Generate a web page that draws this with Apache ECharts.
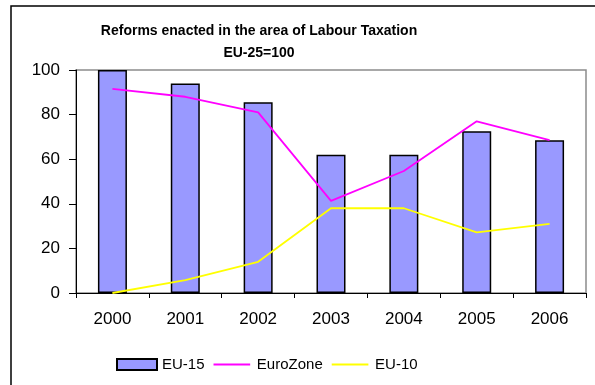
<!DOCTYPE html>
<html>
<head>
<meta charset="utf-8">
<script src="https://cdn.jsdelivr.net/npm/echarts@6/dist/echarts.min.js"></script>
<style>
  html, body { margin: 0; padding: 0; background: #fff; }
  #chart { width: 595px; height: 385px; }
</style>
</head>
<body>
<div id="chart"></div>
<script>
// Years on the category axis
const years = ['2000', '2001', '2002', '2003', '2004', '2005', '2006'];
// Index values, EU-25 = 100
const eu15 = [100, 94, 85.5, 62, 62, 72.5, 68.5];
const euroZone = [91.5, 88, 81, 41.3, 54.7, 77, 68.6];
const eu10 = [0, 5.8, 14, 38, 38, 27.2, 31];
const yTicks = [0, 20, 40, 60, 80, 100];

const font = 'Liberation Sans, Arial, sans-serif';
// Thin horizontal stroke for line-series legend keys; the zero-length
// sub-paths at the corners keep the stroke vertically centred in the key box.
const lineKey = 'path://M0,0 L0,0 M0,5 L40,5 L40,7 L0,7 Z M40,12 L40,12';

const chart = echarts.init(document.getElementById('chart'), null, { renderer: 'canvas' });

chart.setOption({
  animation: false,
  backgroundColor: '#ffffff',
  title: {
    text: 'Reforms enacted in the area of Labour Taxation\nEU-25=100',
    left: 254,
    top: 15,
    textAlign: 'center',
    textStyle: { fontFamily: font, fontSize: 14, fontWeight: 'bold', color: '#000', lineHeight: 22 }
  },
  graphic: [{
    type: 'rect',
    shape: { x: 11, y: 6, width: 700, height: 500 },
    style: { fill: 'none', stroke: '#000', lineWidth: 1.5 },
    silent: true
  }],
  legend: {
    left: 111,
    top: 352,
    itemWidth: 40,
    itemHeight: 11,
    itemGap: 9,
    textStyle: { fontFamily: font, fontSize: 15, color: '#000' },
    data: [
      { name: 'EU-15', icon: 'rect' },
      { name: 'EuroZone', icon: lineKey },
      { name: 'EU-10', icon: lineKey }
    ]
  },
  grid: {
    left: 76, right: 9, top: 70, bottom: 92,
    show: true,
    borderColor: '#8c8c8c',
    borderWidth: 1.5
  },
  xAxis: {
    type: 'category',
    data: years,
    boundaryGap: true,
    axisLine: { lineStyle: { color: '#000', width: 1 } },
    axisTick: { show: true, length: 5, lineStyle: { color: '#000' } },
    axisLabel: { fontFamily: font, fontSize: 17, color: '#000', margin: 18 },
    splitLine: { show: false }
  },
  yAxis: {
    type: 'value',
    min: yTicks[0],
    max: yTicks[yTicks.length - 1],
    interval: 20,
    axisLine: { show: true, lineStyle: { color: '#000', width: 1 } },
    axisTick: { show: true, length: 7, lineStyle: { color: '#000' } },
    axisLabel: { fontFamily: font, fontSize: 17, color: '#000', margin: 16 },
    splitLine: { show: false }
  },
  series: [
    {
      name: 'EU-15',
      type: 'bar',
      data: eu15,
      barWidth: 29,
      itemStyle: { color: '#9999ff', borderColor: '#000', borderWidth: 1.5 }
    },
    {
      name: 'EuroZone',
      type: 'line',
      data: euroZone,
      symbol: 'none',
      showSymbol: false,
      lineStyle: { color: '#ff00ff', width: 1.8 },
      itemStyle: { color: '#ff00ff' }
    },
    {
      name: 'EU-10',
      type: 'line',
      data: eu10,
      symbol: 'none',
      showSymbol: false,
      lineStyle: { color: '#ffff00', width: 1.8 },
      itemStyle: { color: '#ffff00' }
    }
  ]
});
</script>
</body>
</html>
